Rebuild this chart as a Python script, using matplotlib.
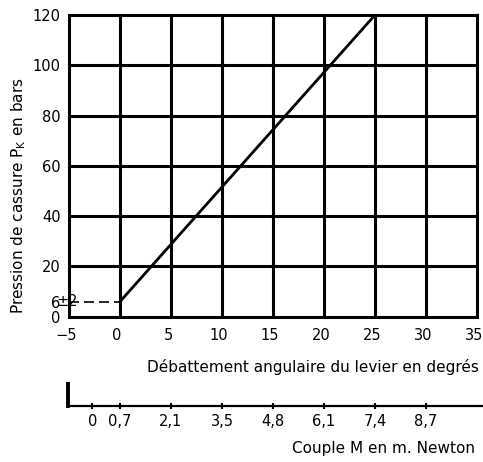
import matplotlib
matplotlib.use("Agg")
import matplotlib.pyplot as plt
import matplotlib.transforms as mtransforms

# Data
angle_deg = [0, 25]
pression_bars = [6, 120]
base_pression = 6
tolerance_label = "±2"
x_ticks = [-5, 0, 5, 10, 15, 20, 25, 30, 35]
y_ticks = [0, 6, 20, 40, 60, 80, 100, 120]
y_tick_labels = ["0", "6", "20", "40", "60", "80", "100", "120"]
couple_pos_deg = [-2.7, 0, 5, 10, 15, 20, 25, 30]
couple_labels = ["0", "0,7", "2,1", "3,5", "4,8", "6,1", "7,4", "8,7"]

plt.rcParams['font.family'] = ['DejaVu Sans']
FS = 10.5
FL = 11
W, H = 483, 462
fig = plt.figure(figsize=(W / 100, H / 100), dpi=100)

def frac(x0, y0, x1, y1):
    return [x0 / W, 1 - y1 / H, (x1 - x0) / W, (y1 - y0) / H]

ax = fig.add_axes(frac(69, 15, 477, 316.7))
ax.set_xlim(-5, 35)
ax.set_ylim(0, 120)
for x in range(0, 35, 5):
    ax.axvline(x, color='black', lw=2.2, zorder=1)
for y in range(20, 120, 20):
    ax.axhline(y, color='black', lw=2.2, zorder=1)
for s in ax.spines.values():
    s.set_linewidth(2.2)
ax.plot(angle_deg, pression_bars, color='black', lw=2.0, zorder=3)
ax.plot([-5, 0], [base_pression, base_pression], color='black', lw=1.2,
        dashes=(6, 3), zorder=3, clip_on=False)
ax.set_xticks(x_ticks)
ax.set_xticklabels([str(v).replace('-', '\u2212') for v in x_ticks])
ax.set_yticks(y_ticks)
ax.set_yticklabels(y_tick_labels)
ax.tick_params(length=0, labelsize=FS)
ax.tick_params(axis='x', pad=8)
ax.tick_params(axis='y', pad=6)
shift = mtransforms.ScaledTranslation(-3 / 100, 0, fig.dpi_scale_trans)
for lab in ax.get_xticklabels():
    lab.set_transform(lab.get_transform() + shift)
ax.text(-6.2, base_pression, tolerance_label, fontsize=FS, ha='left', va='center',
        clip_on=False)
ax.set_ylabel("Pression de cassure P$_\\mathregular{K}$ en bars", fontsize=FL)
ax.yaxis.set_label_coords(-0.1, 0.40)
ax.set_xlabel("Débattement angulaire du levier en degrés", fontsize=FL)
ax.xaxis.set_label_coords(1.005, -0.14)
ax.xaxis.label.set_ha('right')

# Second scale: couple
ax2 = fig.add_axes(frac(68, 384, 483, 406))
ax2.set_xlim(-5 - 1 / 10.2, 35.6)
ax2.set_ylim(0, 1)
ax2.patch.set_alpha(0)
for k in ['top', 'right']:
    ax2.spines[k].set_visible(False)
ax2.spines['left'].set_linewidth(2.8)
ax2.spines['bottom'].set_linewidth(1.6)
ax2.set_yticks([])
ax2.set_xticks(couple_pos_deg)
ax2.set_xticklabels(couple_labels)
ax2.tick_params(axis='x', direction='inout', length=4, width=1.5, labelsize=FS, pad=4)
ax2.set_xlabel("Couple M en m. Newton", fontsize=FL)
ax2.xaxis.set_label_coords(0.98, -1.6)
ax2.xaxis.label.set_ha('right')

fig.savefig("out.png", dpi=100)
